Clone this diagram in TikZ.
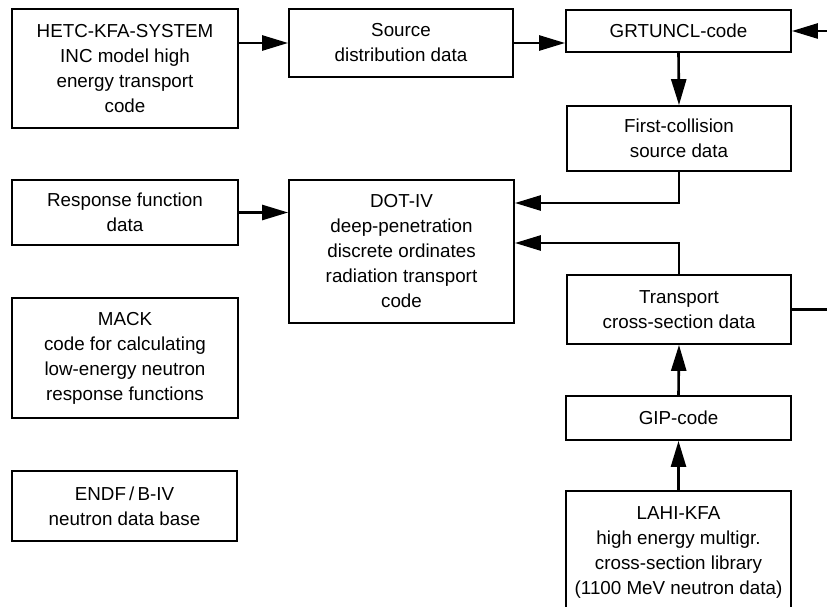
\documentclass[tikz,border=0pt]{standalone}
\usepackage{fontspec}
\setmainfont{Liberation Sans}
\usetikzlibrary{arrows.meta}
\tikzset{
  databox/.style={draw, line width=1.8pt, align=center, inner sep=0pt,
    font=\fontsize{18.8}{25}\selectfont},
  flow/.style={line width=2.6pt, -{Triangle[length=26pt,width=15pt]}},
}

\begin{document}
\begin{tikzpicture}[x=1pt,y=-1pt]
\useasboundingbox (0,0) rectangle (827,607);
% left column
\node[databox, minimum width=226pt, minimum height=119pt] (hetc) at (125,68.5) {HETC-KFA-SYSTEM\\INC model high\\energy transport\\code};
\node[databox, minimum width=226pt, minimum height=65pt] (response) at (125,212.5) {Response function\\data};
\node[databox, minimum width=226pt, minimum height=120pt] (mack) at (125,358) {MACK\\code for calculating\\low-energy neutron\\response functions};
\node[databox, minimum width=225pt, minimum height=70pt] (endf) at (124.5,506) {ENDF\,/\,B-IV\\neutron data base};
% middle column
\node[databox, minimum width=224pt, minimum height=68pt] (source) at (401,43) {Source\\distribution data};
\node[databox, minimum width=225pt, minimum height=143pt] (dot) at (401.5,251.5) {DOT-IV\\deep-penetration\\discrete ordinates\\radiation transport\\code};
% right column
\node[databox, minimum width=225pt, minimum height=42pt] (grtuncl) at (678.5,31) {GRTUNCL-code};
\node[databox, minimum width=224pt, minimum height=65pt] (first) at (679,138.5) {First-collision\\source data};
\node[databox, minimum width=224pt, minimum height=69pt] (transport) at (679,309.5) {Transport\\cross-section data};
\node[databox, minimum width=225pt, minimum height=44pt] (gip) at (678.5,418) {GIP-code};
\node[databox, minimum width=225pt, minimum height=123pt] (lahi) at (678.5,552.5) {LAHI-KFA\\high energy multigr.\\cross-section library\\(1100 MeV neutron data)};
\coordinate (inright) at (827,31);
\coordinate (outright) at (827,309.5);

% connectors
\draw[flow] (hetc.east |- source.west) -- (source.west);
\draw[flow] (source.east) -- (source.east -| grtuncl.west);
\draw[flow] (inright) -- (grtuncl.east);
\draw[flow] (grtuncl.south) -- (first.north);
\draw[flow] (first.south) |- ([yshift=48.5pt]dot.east);
\draw[flow] (response.east) -- (response.east -| dot.west);
\draw[flow] (transport.north) |- ([yshift=8.5pt]dot.east);
\draw[line width=2.6pt] (transport.east) -- (outright);
\draw[flow] (gip.north) -- (transport.south);
\draw[flow] (lahi.north) -- (gip.south);
\end{tikzpicture}
\end{document}
